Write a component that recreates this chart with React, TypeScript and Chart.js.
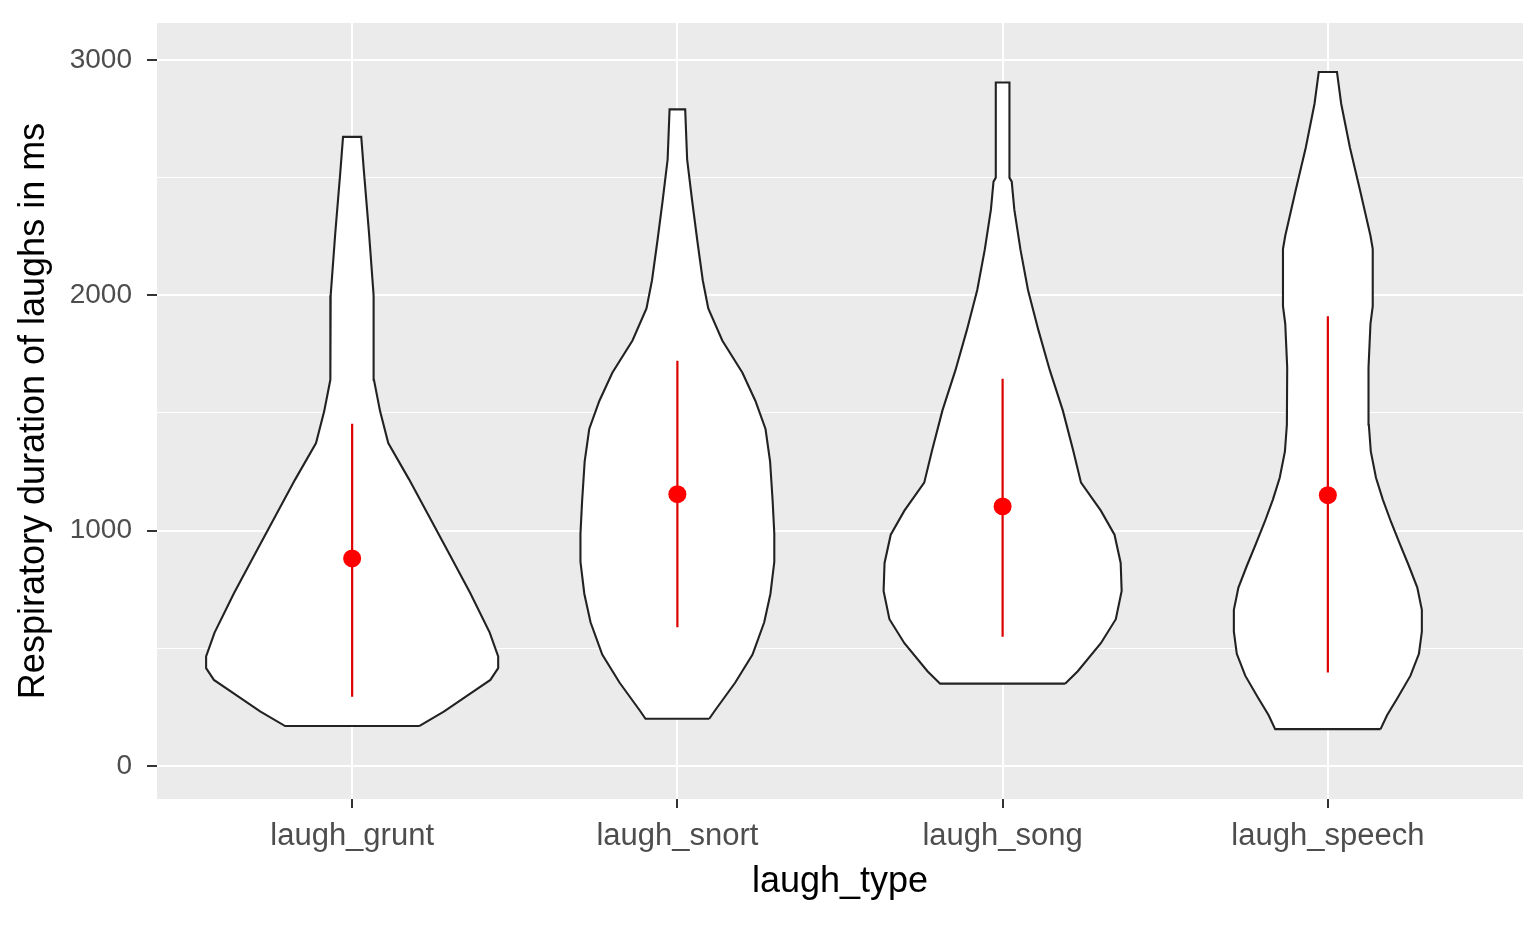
import React, { useEffect, useRef } from 'react';
import { Chart, registerables } from 'chart.js';

Chart.register(...registerables);

// ---- data ----
const categories = ['laugh_grunt', 'laugh_snort', 'laugh_song', 'laugh_speech'];
const yMajorTicks = [0, 1000, 2000, 3000];
const yMinorTicks = [500, 1500, 2500];

// violin outlines: duration (ms) and half-width (in category units)
const gruntDuration = [170, 232, 299, 366, 416, 466, 567, 735, 903, 1070, 1218, 1372, 1507, 1641, 2000, 2262, 2530, 2673];
const gruntHalfWidth = [0.206, 0.283, 0.354, 0.425, 0.449, 0.449, 0.423, 0.363, 0.298, 0.233, 0.175, 0.111, 0.086, 0.067, 0.066, 0.052, 0.036, 0.028];

const snortDuration = [201, 235, 355, 474, 611, 731, 868, 987, 1124, 1295, 1432, 1551, 1671, 1808, 1944, 2064, 2235, 2406, 2577, 2790];
const snortHalfWidth = [0.098, 0.115, 0.178, 0.231, 0.267, 0.286, 0.298, 0.298, 0.293, 0.285, 0.271, 0.240, 0.200, 0.138, 0.095, 0.078, 0.061, 0.045, 0.030, 0.024];

const songDuration = [350, 403, 522, 624, 744, 863, 983, 1085, 1204, 1341, 1511, 1682, 1852, 2023, 2193, 2364, 2483, 2500, 2904];
const songHalfWidth = [0.192, 0.231, 0.302, 0.348, 0.366, 0.363, 0.344, 0.302, 0.241, 0.217, 0.185, 0.145, 0.110, 0.078, 0.055, 0.036, 0.028, 0.021, 0.021];

const speechDuration = [157, 216, 291, 384, 477, 571, 664, 758, 851, 945, 1038, 1132, 1225, 1337, 1450, 1693, 1879, 1954, 2197, 2253, 2440, 2627, 2814, 2949];
const speechHalfWidth = [0.162, 0.182, 0.215, 0.254, 0.280, 0.289, 0.289, 0.275, 0.249, 0.221, 0.194, 0.169, 0.148, 0.132, 0.126, 0.125, 0.131, 0.138, 0.138, 0.131, 0.100, 0.068, 0.041, 0.028];

// summary (mean and range)
const meanValues = [882, 1155, 1103, 1151];
const lowValues = [294, 590, 549, 397];
const highValues = [1454, 1722, 1646, 1911];

const FONT = "'Liberation Sans', Arial, sans-serif";

const violinDurations = [gruntDuration, snortDuration, songDuration, speechDuration];
const violinHalfWidths = [gruntHalfWidth, snortHalfWidth, songHalfWidth, speechHalfWidth];

function violinPoints(center: number, ys: number[], hws: number[]) {
  const right = ys.map((y, i) => ({ x: center + hws[i], y }));
  const left = ys.map((y, i) => ({ x: center - hws[i], y })).reverse();
  return [...right, ...left, right[0]];
}

const panelPlugin = {
  id: 'panelPlugin',
  beforeDraw(chart: any) {
    const { ctx, chartArea: a } = chart;
    ctx.save();
    ctx.fillStyle = '#EBEBEB';
    ctx.fillRect(a.left, a.top, a.right - a.left, a.bottom - a.top);
    ctx.restore();
  },
  beforeDatasetDraw(chart: any, args: any) {
    const ds = chart.data.datasets[args.index];
    if (!ds.violinFill) return;
    const pts = args.meta.data;
    const ctx = chart.ctx;
    ctx.save();
    ctx.beginPath();
    pts.forEach((p: any, i: number) => (i ? ctx.lineTo(p.x, p.y) : ctx.moveTo(p.x, p.y)));
    ctx.closePath();
    ctx.fillStyle = ds.violinFill;
    ctx.fill();
    ctx.restore();
  },
};

export default function App() {
  const ref = useRef<HTMLCanvasElement | null>(null);

  useEffect(() => {
    if (!ref.current) return;

    const violinSets = categories.map((c, i) => ({
      label: c,
      data: violinPoints(i + 1, violinDurations[i], violinHalfWidths[i]),
      showLine: true,
      borderColor: '#222222',
      borderWidth: 2.1,
      pointRadius: 0,
      pointHoverRadius: 0,
      tension: 0,
      fill: false,
      violinFill: '#FFFFFF',
      order: 3,
    }));

    const rangeSets = categories.map((c, i) => ({
      label: c + ' range',
      data: [
        { x: i + 1, y: lowValues[i] },
        { x: i + 1, y: highValues[i] },
      ],
      showLine: true,
      borderColor: '#DD0000',
      borderWidth: 2.2,
      pointRadius: 0,
      pointHoverRadius: 0,
      fill: false,
      order: 2,
    }));

    const meanSet = {
      label: 'mean',
      data: meanValues.map((v, i) => ({ x: i + 1, y: v })),
      showLine: false,
      pointRadius: 9,
      pointHoverRadius: 9,
      pointBackgroundColor: '#FF0000',
      pointBorderWidth: 0,
      borderColor: '#FF0000',
      order: 1,
    };

    const allYTicks = [...yMajorTicks, ...yMinorTicks].sort((a, b) => a - b);

    const chart = new Chart(ref.current, {
      type: 'scatter',
      data: { datasets: [meanSet, ...rangeSets, ...violinSets] as any },
      plugins: [panelPlugin],
      options: {
        animation: false,
        responsive: false,
        maintainAspectRatio: false,
        devicePixelRatio: 1,
        layout: { padding: { left: 0, right: 12, top: 23, bottom: 0 } },
        plugins: {
          legend: { display: false },
          tooltip: { enabled: false },
        },
        scales: {
          x: {
            type: 'linear',
            min: 0.4,
            max: 4.6,
            afterBuildTicks: (s: any) => {
              s.ticks = categories.map((_, i) => ({ value: i + 1 }));
            },
            afterFit: (s: any) => {
              s.height = 126;
              s.paddingLeft = 0;
              s.paddingRight = 0;
            },
            border: { display: false },
            grid: {
              color: '#FFFFFF',
              lineWidth: 2,
              drawTicks: true,
              tickLength: 9,
              tickColor: '#333333',
              tickWidth: 2,
            },
            ticks: {
              autoSkip: false,
              maxRotation: 0,
              padding: 13,
              color: '#4D4D4D',
              font: { family: FONT, size: 31, lineHeight: 1 },
              callback: (v: any) => categories[Math.round(Number(v)) - 1] ?? '',
            },
            title: {
              display: true,
              text: 'laugh_type',
              color: '#000000',
              font: { family: FONT, size: 36, lineHeight: 1 },
              padding: { top: 0, bottom: 25 },
            },
          },
          y: {
            type: 'linear',
            min: -140,
            max: 3157,
            afterBuildTicks: (s: any) => {
              s.ticks = allYTicks.map((v) => ({ value: v }));
            },
            afterFit: (s: any) => {
              s.width = 157;
              s.paddingTop = 0;
              s.paddingBottom = 0;
            },
            border: { display: false },
            grid: {
              color: '#FFFFFF',
              lineWidth: (ctx: any) => (yMajorTicks.includes(ctx.tick?.value) ? 2 : 1.1),
              drawTicks: true,
              tickLength: 10,
              tickColor: (ctx: any) => (yMajorTicks.includes(ctx.tick?.value) ? '#333333' : 'rgba(0,0,0,0)'),
              tickWidth: 2,
            },
            ticks: {
              autoSkip: false,
              padding: 15,
              color: '#4D4D4D',
              font: { family: FONT, size: 28, lineHeight: 1 },
              callback: (v: any) => (yMajorTicks.includes(Number(v)) ? String(v) : ''),
            },
            title: {
              display: true,
              text: 'Respiratory duration of laughs in ms',
              color: '#000000',
              font: { family: FONT, size: 36, lineHeight: 1 },
              padding: { top: 16, bottom: 0 },
            },
          },
        },
      } as any,
    });

    return () => chart.destroy();
  }, []);

  return (
    <div style={{ position: 'fixed', left: 0, top: 0, width: 1535, height: 925, background: '#FFFFFF' }}>
      <canvas ref={ref} width={1535} height={925} style={{ display: 'block', width: 1535, height: 925 }} />
    </div>
  );
}
